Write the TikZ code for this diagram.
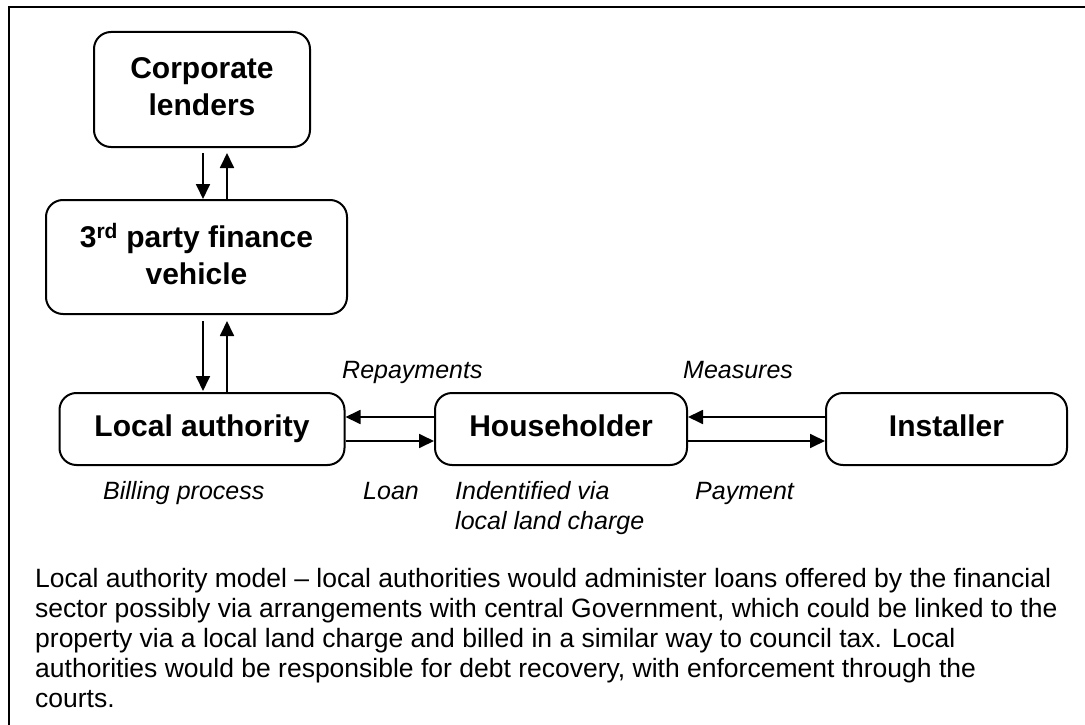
\documentclass[tikz,border=0pt]{standalone}
\usepackage{fontspec}
\setmainfont{Liberation Sans}
\usetikzlibrary{positioning,arrows.meta}

\begin{document}
\begin{tikzpicture}[x=1pt, y=-1pt,
    box/.style={draw, rounded corners=17pt, line width=2pt, align=center, inner sep=0pt,
        text depth=6pt, font=\fontsize{30}{37}\selectfont\bfseries},
    lbl/.style={inner sep=0pt, font=\fontsize{25}{30}\selectfont\itshape},
    flow/.style={line width=1.8pt, -{Triangle[length=15pt, width=14pt]}}]
    \useasboundingbox (0,0) rectangle (1085,725);
    \draw [line width=2pt] (1095,7) -- (9,7) -- (9,735);

    \node [box, minimum width=216pt, minimum height=115pt] (lenders) at (202,89.5) {Corporate\\lenders};
    \node [box, minimum width=301pt, minimum height=114pt] (vehicle) at (196.5,257) {3\textsuperscript{rd} party finance\\vehicle};
    \node [box, minimum width=285pt, minimum height=72pt] (la) at (202,429) {Local authority};
    \node [box, minimum width=252pt, minimum height=72pt] (house) at (561,429) {Householder};
    \node [box, minimum width=241pt, minimum height=72pt] (inst) at (946.5,429) {Installer};

    \draw [flow] ([xshift=1pt, yshift=-5pt]lenders.south) -- ([xshift=1pt]lenders.south |- vehicle.north);
    \draw [flow] ([xshift=25pt]lenders.south |- vehicle.north) -- ([xshift=25pt, yshift=-5pt]lenders.south);
    \draw [flow] ([xshift=1pt, yshift=-6pt]lenders.south |- vehicle.south) -- ([xshift=1pt, yshift=1pt]lenders.south |- la.north);
    \draw [flow] ([xshift=25pt]lenders.south |- la.north) -- ([xshift=25pt, yshift=-6pt]lenders.south |- vehicle.south);

    \draw [flow] ([yshift=12pt]house.west) -- ([yshift=12pt]la.east);
    \draw [flow] ([yshift=-12pt]la.east) -- ([yshift=-12pt]house.west);
    \draw [flow] ([yshift=12pt]inst.west) -- ([yshift=12pt]house.east);
    \draw [flow] ([yshift=-12pt]house.east) -- ([yshift=-12pt]inst.west);

    \node [lbl, anchor=base west] (repay) at (342,378) {Repayments};
    \node [lbl, anchor=base west] (measures) at (683,378) {Measures};
    \node [lbl, anchor=base west] (billing) at (103,499) {Billing process};
    \node [lbl, anchor=base west] (loan) at (363,499) {Loan};
    \node [lbl, anchor=north west, align=left] (charge) at (455,481) {Indentified via\\local land charge};
    \node [lbl, anchor=base west] (payment) at (695,499) {Payment};

    \node [inner sep=0pt, anchor=north west, align=left, font=\fontsize{26.5}{30}\selectfont] (model) at (35,568)
        {Local authority model -- local authorities would administer loans offered by the financial\\
         sector possibly via arrangements with central Government, which could be linked to the\\
         property via a local land charge and billed in a similar way to council tax. Local\\
         authorities would be responsible for debt recovery, with enforcement through the\\
         courts.};
\end{tikzpicture}
\end{document}
